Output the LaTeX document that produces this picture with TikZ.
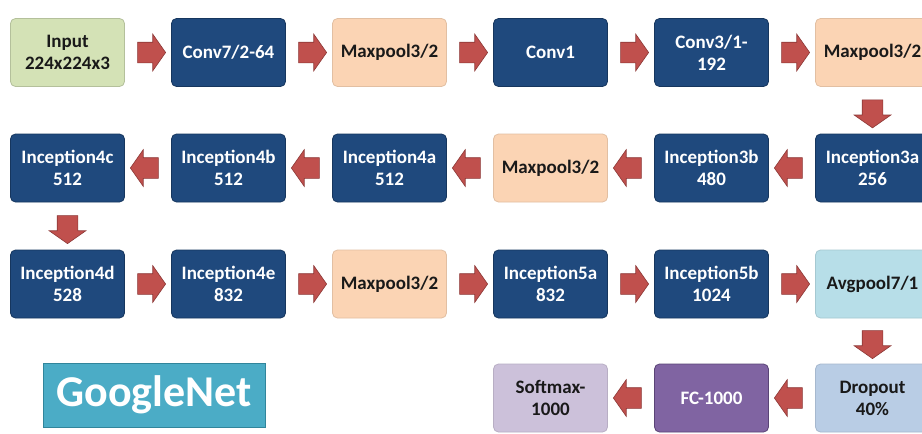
\documentclass[tikz,border=0pt]{standalone}
\usepackage{fontspec}
\setmainfont{Carlito}
\usetikzlibrary{shapes.arrows,calc}
\definecolor{dblue}{RGB}{31,73,125}
\definecolor{dblueb}{RGB}{22,54,94}
\definecolor{ingreen}{RGB}{212,226,182}
\definecolor{peach}{RGB}{251,212,180}
\definecolor{cyanl}{RGB}{183,222,232}
\definecolor{dropb}{RGB}{185,205,229}
\definecolor{fcpur}{RGB}{128,100,162}
\definecolor{fcpurb}{RGB}{90,68,118}
\definecolor{softl}{RGB}{204,193,218}
\definecolor{arrowred}{RGB}{192,80,77}
\definecolor{arrowb}{RGB}{140,56,54}
\definecolor{gteal}{RGB}{75,172,198}
\definecolor{gtealb}{RGB}{49,133,155}
\definecolor{darktext}{RGB}{25,25,25}
\begin{document}
\begin{tikzpicture}[x=1pt,y=1pt,
  box/.style={rounded corners=5pt, minimum width=114pt, minimum height=68pt,
    align=center, font=\bfseries\fontsize{19}{22}\selectfont, line width=0.8pt, inner sep=2pt},
  darkbox/.style={box, fill=dblue, draw=dblueb, text=white},
  inbox/.style={box, fill=ingreen, draw=ingreen!85!black, text=darktext},
  poolbox/.style={box, fill=peach, draw=peach!90!black, text=darktext},
  avgbox/.style={box, fill=cyanl, draw=cyanl!90!black, text=darktext},
  dropbox/.style={box, fill=dropb, draw=dropb!90!black, text=darktext},
  fcbox/.style={box, fill=fcpur, draw=fcpurb, text=white},
  softbox/.style={box, fill=softl, draw=softl!90!black, text=darktext},
  barrow/.style={single arrow, draw=arrowb, fill=arrowred, minimum width=36pt,
    minimum height=28pt, single arrow head extend=8pt, single arrow tip angle=110,
    inner xsep=0pt, inner ysep=10pt, text height=0pt, text depth=0pt, line width=0.6pt},
  rarrow/.style={barrow},
  larrow/.style={barrow, shape border rotate=180},
  darrow/.style={barrow, shape border rotate=270, inner xsep=10pt, inner ysep=0pt}
]
\useasboundingbox (0,0) rectangle (922,-434);
\clip (0,0) rectangle (922,-434);
\fill[white] (0,0) rectangle (922,-434);
% row 1
\node[inbox] (in) at (67.5,-52.5) {Input\\224x224x3};
\node[darkbox] (c7) at (228.5,-52.5) {Conv7/2-64};
\node[poolbox] (m1) at (389.5,-52.5) {Maxpool3/2};
\node[darkbox] (c1) at (550.5,-52.5) {Conv1};
\node[darkbox] (c3) at (711.5,-52.5) {Conv3/1-\\192};
\node[poolbox] (m2) at (872.5,-52.5) {Maxpool3/2};
% row 2
\node[darkbox] (i3a) at (872.5,-168) {Inception3a\\256};
\node[darkbox] (i3b) at (711.5,-168) {Inception3b\\480};
\node[poolbox] (m3) at (550.5,-168) {Maxpool3/2};
\node[darkbox] (i4a) at (389.5,-168) {Inception4a\\512};
\node[darkbox] (i4b) at (228.5,-168) {Inception4b\\512};
\node[darkbox] (i4c) at (67.5,-168) {Inception4c\\512};
% row 3
\node[darkbox] (i4d) at (67.5,-284) {Inception4d\\528};
\node[darkbox] (i4e) at (228.5,-284) {Inception4e\\832};
\node[poolbox] (m4) at (389.5,-284) {Maxpool3/2};
\node[darkbox] (i5a) at (550.5,-284) {Inception5a\\832};
\node[darkbox] (i5b) at (711.5,-284) {Inception5b\\1024};
\node[avgbox] (avg) at (872.5,-284) {Avgpool7/1};
% row 4
\node[dropbox] (drop) at (872.5,-398) {Dropout\\40\%};
\node[fcbox] (fc) at (711.5,-398) {FC-1000};
\node[softbox] (soft) at (550.5,-398) {Softmax-\\1000};
% title
\node[fill=gteal, draw=gtealb, line width=0.8pt, minimum width=222pt, minimum height=64pt,
  inner sep=0pt, text=white, font=\bfseries\fontsize{44}{48}\selectfont] (title) at (154,-395) {GoogleNet};
% arrows
\node[rarrow] (a1) at ($(in.east)!0.5!(c7.west)$) {};
\node[rarrow] (a2) at ($(c7.east)!0.5!(m1.west)$) {};
\node[rarrow] (a3) at ($(m1.east)!0.5!(c1.west)$) {};
\node[rarrow] (a4) at ($(c1.east)!0.5!(c3.west)$) {};
\node[rarrow] (a5) at ($(c3.east)!0.5!(m2.west)$) {};
\node[darrow] (a6) at ($(m2.south)!0.5!(i3a.north)$) {};
\node[larrow] (a7) at ($(i3a.west)!0.5!(i3b.east)$) {};
\node[larrow] (a8) at ($(i3b.west)!0.5!(m3.east)$) {};
\node[larrow] (a9) at ($(m3.west)!0.5!(i4a.east)$) {};
\node[larrow] (a10) at ($(i4a.west)!0.5!(i4b.east)$) {};
\node[larrow] (a11) at ($(i4b.west)!0.5!(i4c.east)$) {};
\node[darrow] (a12) at ($(i4c.south)!0.5!(i4d.north)$) {};
\node[rarrow] (a13) at ($(i4d.east)!0.5!(i4e.west)$) {};
\node[rarrow] (a14) at ($(i4e.east)!0.5!(m4.west)$) {};
\node[rarrow] (a15) at ($(m4.east)!0.5!(i5a.west)$) {};
\node[rarrow] (a16) at ($(i5a.east)!0.5!(i5b.west)$) {};
\node[rarrow] (a17) at ($(i5b.east)!0.5!(avg.west)$) {};
\node[darrow] (a18) at ($(avg.south)!0.5!(drop.north)$) {};
\node[larrow] (a19) at ($(drop.west)!0.5!(fc.east)$) {};
\node[larrow] (a20) at ($(fc.west)!0.5!(soft.east)$) {};
\end{tikzpicture}
\end{document}
